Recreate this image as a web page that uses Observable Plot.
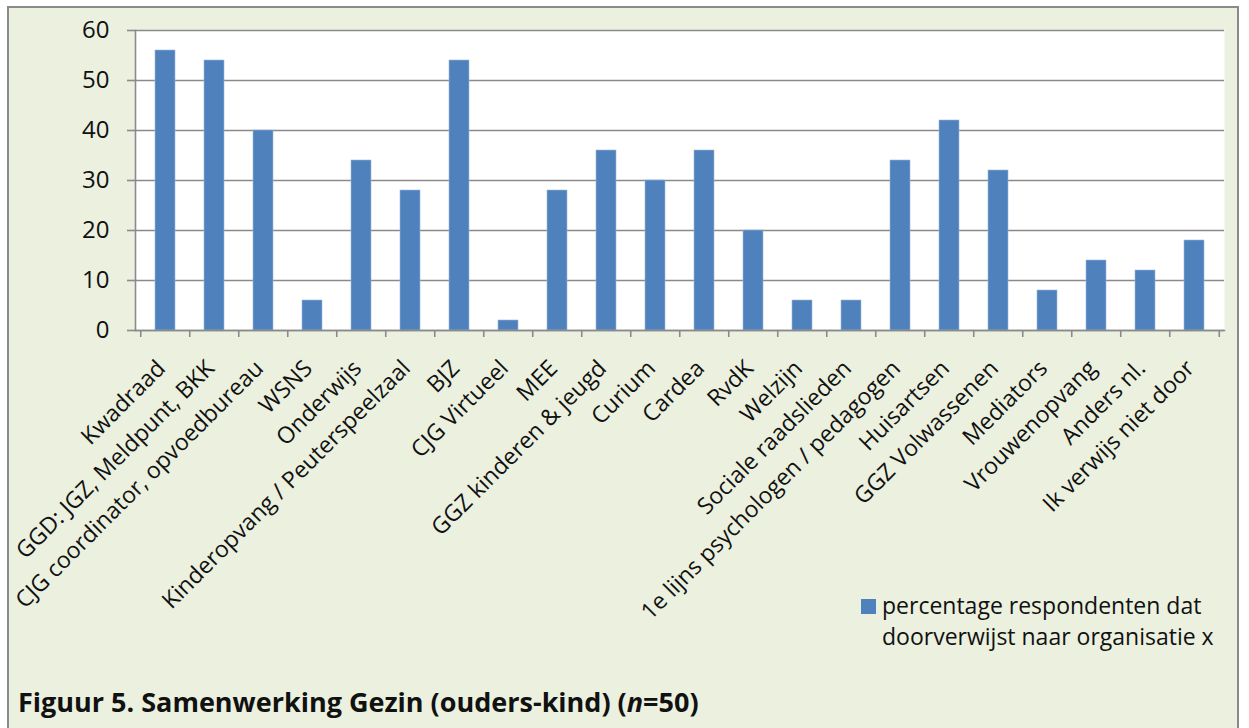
<!DOCTYPE html>
<html>
<head>
<meta charset="utf-8">
<script src="https://cdn.jsdelivr.net/npm/d3@7"></script>
<script src="https://cdn.jsdelivr.net/npm/@observablehq/plot@0.6"></script>
<style>
  html, body { margin: 0; padding: 0; background: #ffffff; }
  body { width: 1249px; height: 728px; position: relative; overflow: hidden; font-family: "Open Sans", sans-serif; }
  #frame { position: absolute; left: 7px; top: 6px; width: 1232px; height: 740px; border: 2px solid #8a8a8a; background: #ebf0df; box-sizing: border-box; }
  #chart { position: absolute; left: 0; top: 0; }
  #legend { position: absolute; left: 861px; top: 590px; font-size: 23px; line-height: 31px; color: #111; }
  #legend .sw { position: absolute; left: 0; top: 9px; width: 15px; height: 15px; background: #4f81bd; }
  #legend .tx { position: absolute; left: 21px; top: 0; white-space: nowrap; }
  #title { position: absolute; left: 18px; top: 686px; font-size: 27px; font-weight: bold; color: #111; white-space: nowrap; line-height: 32px; }
</style>
</head>
<body>
<div id="frame"></div>
<div id="chart"></div>
<div id="legend"><div class="sw"></div><div class="tx">percentage respondenten dat<br>doorverwijst naar organisatie x</div></div>
<div id="title">Figuur 5. Samenwerking Gezin (ouders-kind) (<i>n</i>=50)</div>
<script>
const categories = [
  "Kwadraad",
  "GGD: JGZ, Meldpunt, BKK",
  "CJG coordinator, opvoedbureau",
  "WSNS",
  "Onderwijs",
  "Kinderopvang / Peuterspeelzaal",
  "BJZ",
  "CJG Virtueel",
  "MEE",
  "GGZ kinderen & jeugd",
  "Curium",
  "Cardea",
  "RvdK",
  "Welzijn",
  "Sociale raadslieden",
  "1e lijns psychologen / pedagogen",
  "Huisartsen",
  "GGZ Volwassenen",
  "Mediators",
  "Vrouwenopvang",
  "Anders nl.",
  "Ik verwijs niet door"
];
const values = [56, 54, 40, 6, 34, 28, 54, 2, 28, 36, 30, 36, 20, 6, 6, 34, 42, 32, 8, 14, 12, 18];
const yTicks = [0, 10, 20, 30, 40, 50, 60];

const data = categories.map((c, i) => ({name: c, value: values[i]}));

const W = 1249, H = 640;
const mL = 135, mR = 25, mT = 30, mB = 310;
const step = (W - mL - mR) / categories.length;
const gray = "#8a8a8a";

const chart = Plot.plot({
  width: W,
  height: H,
  marginLeft: mL,
  marginRight: mR,
  marginTop: mT,
  marginBottom: mB,
  style: {background: "transparent", fontFamily: "'Open Sans', sans-serif", color: "#111"},
  x: {domain: categories, paddingInner: 0.6, paddingOuter: 0.3, label: null},
  y: {domain: [0, 60], label: null},
  marks: [
    Plot.frame({fill: "white", stroke: "none"}),
    Plot.gridY(yTicks, {stroke: gray, strokeOpacity: 1, strokeWidth: 1.6}),
    Plot.barY(data, {x: "name", y: "value", fill: "#4f81bd", stroke: "#9bb7d9", strokeWidth: 0.6}),
    Plot.frame({anchor: "left", stroke: gray, strokeWidth: 1.6}),
    Plot.frame({anchor: "bottom", stroke: gray, strokeWidth: 1.6}),
    Plot.axisY(yTicks, {tickSize: 8, tickPadding: 18, stroke: gray, strokeWidth: 1.6, fontSize: 24, tickFormat: d => String(d), label: null}),
    Plot.axisX({tickSize: 7, dx: -step / 2, tickFormat: () => "", stroke: gray, strokeWidth: 1.6, label: null}),
    Plot.axisX([categories[categories.length - 1]], {tickSize: 7, dx: step / 2, tickFormat: () => "", stroke: gray, strokeWidth: 1.6, label: null}),
    Plot.text(data, {x: "name", frameAnchor: "bottom", text: "name", rotate: -45, textAnchor: "end", lineAnchor: "middle", dx: -4, dy: 34, fontSize: 23, fill: "#111"})
  ]
});
document.getElementById("chart").appendChild(chart);
</script>
</body>
</html>
